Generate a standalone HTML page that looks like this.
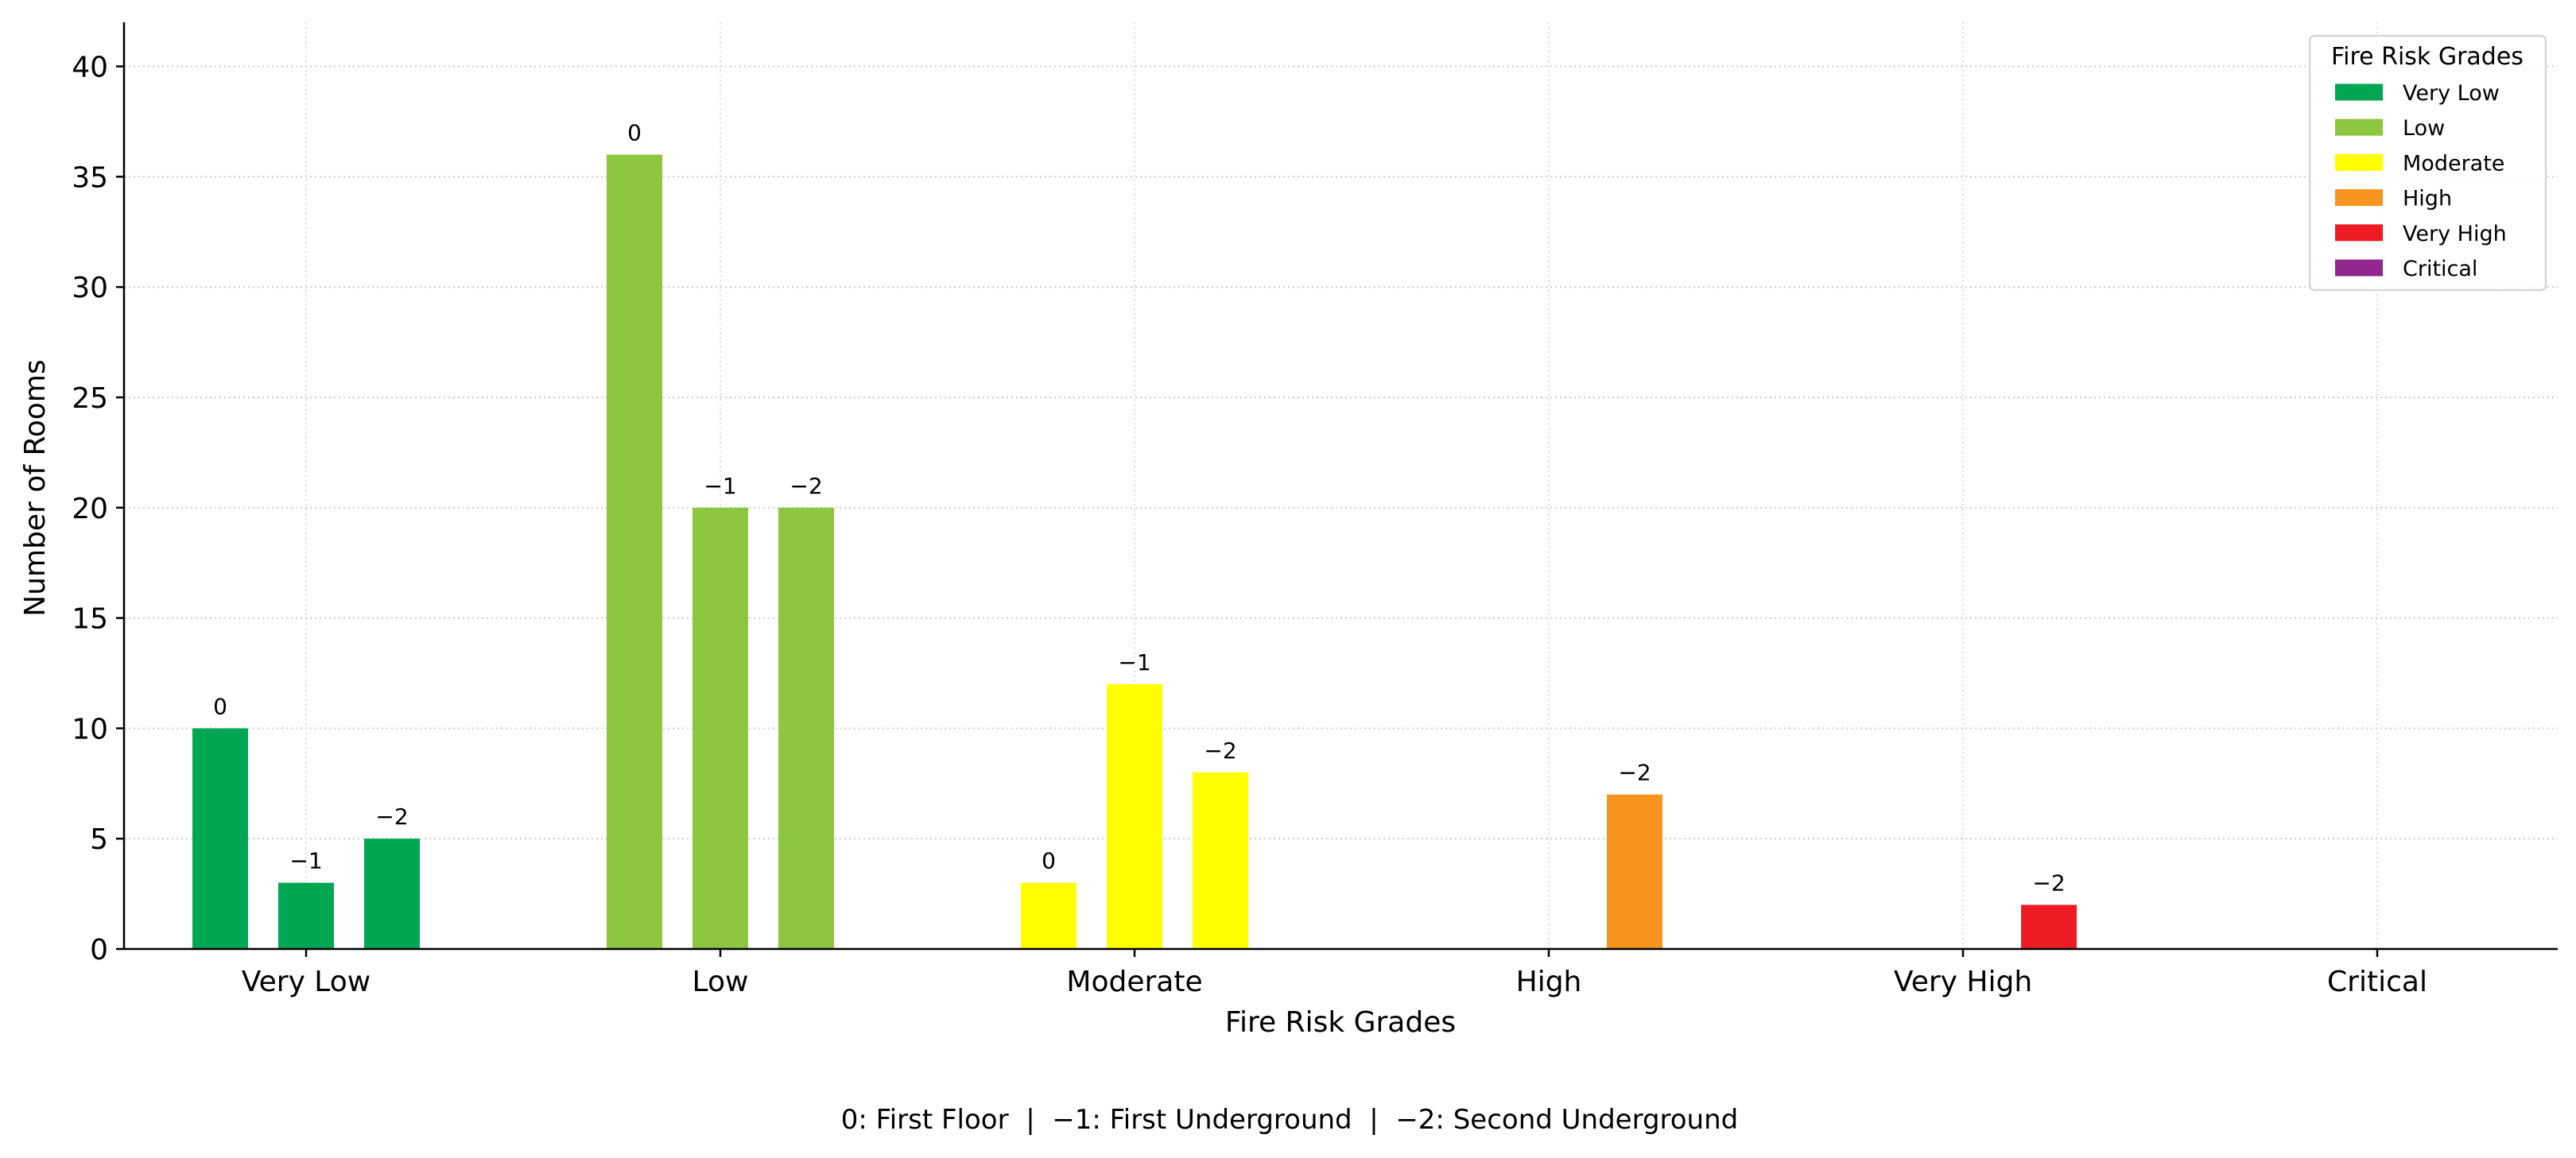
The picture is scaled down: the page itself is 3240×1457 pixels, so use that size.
<!DOCTYPE html>
<html><head><meta charset="utf-8"><style>
html,body{margin:0;padding:0;background:#fff;}
svg text{font-family:"DejaVu Sans","Liberation Sans",sans-serif;}
.pre{white-space:pre;}
</style></head><body>
<svg id="chart" width="3240" height="1452" viewBox="0 0 3240 1452" xmlns="http://www.w3.org/2000/svg">
<g id="grid"></g>
<g id="bars"></g>
<g id="axes"></g>
<text x="1686" y="1298" font-size="36" text-anchor="middle">Fire Risk Grades</text>
<text x="0" y="0" font-size="36" text-anchor="middle" transform="translate(56,614) rotate(-90)">Number of Rooms</text>
<text class="pre" xml:space="preserve" x="1622" y="1420" font-size="34" text-anchor="middle">0: First Floor  |  −1: First Underground  |  −2: Second Underground</text>
<g>
<rect x="2905" y="45" width="297" height="320" rx="6" fill="#fff" fill-opacity="0.85" stroke="#d6d6d6" stroke-width="2.5"/>
<text x="3053" y="81" font-size="30" text-anchor="middle">Fire Risk Grades</text>
<g id="legend-items"></g>
</g>
</svg>
<script>
const categories = ["Very Low","Low","Moderate","High","Very High","Critical"];
const colors = ["#00A651","#8DC63F","#FFFF00","#F7941D","#ED1C24","#92278F"];
const floorLabels = ["0","\u22121","\u22122"];
const floor0 = [10,36,3,0,0,0];
const floorM1 = [3,20,12,0,0,0];
const floorM2 = [5,20,8,7,2,0];
const yTicks = [0,5,10,15,20,25,30,35,40];

const NS="http://www.w3.org/2000/svg";
const left=156,right=3217,y0=1194,yTop=28,yMax=42;
const catStep=521,cat0=385,barOff=108,barW=70;
function xPos(i){return cat0+i*catStep;}
function yPos(v){return y0-(v/yMax)*(y0-yTop);}
function mk(tag,attrs,parent){const e=document.createElementNS(NS,tag);for(const k in attrs)e.setAttribute(k,attrs[k]);parent.appendChild(e);return e;}
const grid=document.getElementById('grid'),bars=document.getElementById('bars'),axes=document.getElementById('axes');

yTicks.forEach(t=>{
  const y=yPos(t);
  const g=mk('line',{x1:left,x2:right,y1:y,y2:y,stroke:'#cccccc','stroke-width':2,'stroke-dasharray':'2,4'},grid);
  
  
  const tk=mk('line',{x1:left-10,x2:left,y1:y,y2:y,stroke:'#000','stroke-width':2.5},axes);
  
  
  const tx=mk('text',{x:left-20,y:y+13,'font-size':36,'text-anchor':'end'},axes);
  
  
  tx.textContent=t;
});
categories.forEach((c,i)=>{
  const x=xPos(i);
  const g=mk('line',{x1:x,x2:x,y1:yTop,y2:y0,stroke:'#dddddd','stroke-width':2,'stroke-dasharray':'2,4'},grid);
  
  
  const tk=mk('line',{x1:x,x2:x,y1:y0,y2:y0+10,stroke:'#000','stroke-width':2.5},axes);
  
  
  const tx=mk('text',{x:x,y:y0+53,'font-size':36,'text-anchor':'middle'},axes);
  
  
  tx.textContent=c;
});
const series=[floor0,floorM1,floorM2];
series.forEach((s,si)=>{
  s.forEach((v,i)=>{
    if(v<=0)return;
    const cx=xPos(i)+(si-1)*barOff;
    const r=mk('rect',{x:cx-barW/2,y:yPos(v),width:barW,height:y0-yPos(v),fill:colors[i]},bars);
    
    
    const t=mk('text',{x:cx,y:yPos(v)-18,'font-size':28,'text-anchor':'middle'},bars);
    
    
    t.textContent=floorLabels[si];
  });
});
const ax1=mk('line',{x1:left,x2:left,y1:yTop,y2:y0,stroke:'#000','stroke-width':2.5},axes);


const ax2=mk('line',{x1:left,x2:right,y1:y0,y2:y0,stroke:'#000','stroke-width':2.5},axes);



const li=document.getElementById('legend-items');
categories.forEach((c,i)=>{
  const cy=116+i*44.2;
  const r=mk('rect',{x:2937,y:cy-10.5,width:60,height:21,fill:colors[i]},li);
  
  
  const t=mk('text',{x:3022,y:cy+10,'font-size':27},li);
  
  
  t.textContent=c;
});
</script>
</body></html>
